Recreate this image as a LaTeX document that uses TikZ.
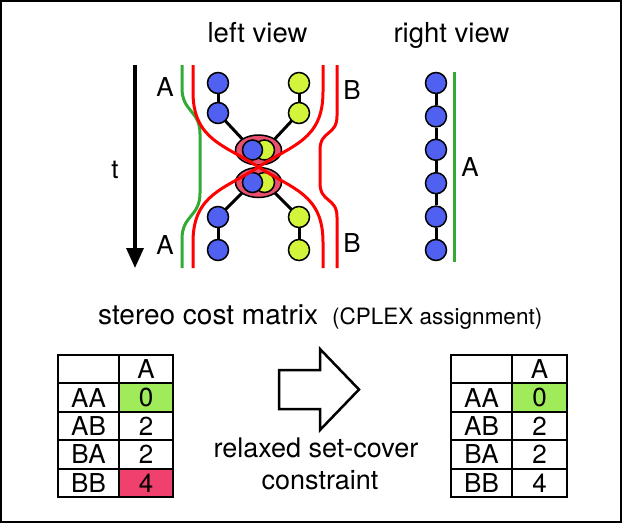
\documentclass[tikz,border=0pt]{standalone}
\usepackage{fontspec}
\setmainfont{TeX Gyre Heros}
\usetikzlibrary{arrows.meta,shapes.geometric}
\definecolor{ballblue}{HTML}{5060F0}
\definecolor{ballyellow}{HTML}{D2F53C}
\definecolor{pairred}{HTML}{E8506E}
\definecolor{linegreen}{HTML}{33AA33}
\definecolor{cellgreen}{HTML}{A0EB5A}
\definecolor{cellred}{HTML}{F0416E}
\pgfdeclarelayer{background}
\pgfsetlayers{background,main}
\begin{document}
\begin{tikzpicture}[x=1pt,y=-1pt,
  ball/.style={circle, draw=black, line width=1.5pt, minimum size=21pt, inner sep=0pt},
  bb/.style={ball, fill=ballblue},
  yb/.style={ball, fill=ballyellow},
  pairnode/.style={ellipse, draw=black, line width=1.5pt, fill=pairred, minimum width=46pt, minimum height=30pt, inner sep=0pt},
  link/.style={line width=3pt, black},
  track/.style={line width=3pt},
  lbl/.style={font=\fontsize{26}{28}\selectfont, inner sep=0pt},
  big/.style={font=\fontsize{27.5}{30}\selectfont, inner sep=0pt},
  cell/.style={draw=black, line width=2pt, minimum height=28.4pt, inner sep=0pt, font=\fontsize{26}{28}\selectfont},
]
\useasboundingbox (0,0) rectangle (622,523);
\draw[line width=2pt] (1,1) rectangle (620.5,521.5);

% titles
\node[big, anchor=base] (lv) at (257.5,42) {left view};
\node[big, anchor=base] (rv) at (451.5,42) {right view};

% time arrow
\coordinate (ts) at (135,65);
\coordinate (te) at (135,268);
\draw[line width=3.3pt, -{Triangle[length=20pt,width=17pt]}] (ts) -- (te);
\node[lbl] (tl) at (115,170) {t};

% labels
\node[lbl] (la1) at (165,87) {A};
\node[lbl] (la2) at (165,245) {A};
\node[lbl] (lb1) at (352,90) {B};
\node[lbl] (lb2) at (352,243) {B};

% green and outer red tracks
\draw[track, linegreen] (182,65) -- (182,88) .. controls (182,112) and (200,110) .. (200,134) -- (200,193) .. controls (200,217) and (182,215) .. (182,239) -- (182,268);
\draw[track, red] (337,65) -- (337,116) .. controls (337,136) and (320,130) .. (320,150) -- (320,183) .. controls (320,203) and (337,197) .. (337,217) -- (337,268);

% balls left view
\node[bb] (b1) at (218,83) {};
\node[bb] (b2) at (218,113) {};
\node[yb] (y1) at (299,83) {};
\node[yb] (y2) at (299,113) {};
\node[bb] (b3) at (218,217) {};
\node[bb] (b4) at (218,250) {};
\node[yb] (y3) at (299,217) {};
\node[yb] (y4) at (299,250) {};
\node[pairnode] (p1) at (258.5,150) {};
\node[pairnode] (p2) at (258.5,182.5) {};
\node[yb, minimum size=20pt] (py1) at (264.5,150) {};
\node[bb, minimum size=20pt] (pb1) at (252.5,150) {};
\node[yb, minimum size=20pt] (py2) at (264.5,182.5) {};
\node[bb, minimum size=20pt] (pb2) at (252.5,182.5) {};
\begin{pgfonlayer}{background}
\draw[link] (b1) -- (b2);
\draw[link] (y1) -- (y2);
\draw[link] (b3) -- (b4);
\draw[link] (y3) -- (y4);
\draw[link] (b2.center) -- (pb1.center);
\draw[link] (y2.center) -- (py1.center);
\draw[link] (pb2.center) -- (b3.center);
\draw[link] (py2.center) -- (y3.center);
\end{pgfonlayer}

% crossing red curves
\draw[track, red] (193,65) -- (193,92) .. controls (193,140) and (225,145) .. (258.5,167) .. controls (292,189) and (323,194) .. (323,242) -- (323,268);
\draw[track, red] (323,65) -- (323,92) .. controls (323,140) and (292,145) .. (258.5,167) .. controls (225,189) and (193,194) .. (193,242) -- (193,268);

% right view
\foreach \i in {1,...,6} {
  \node[bb] (r\i) at (436,{83+33.4*(\i-1)}) {};
}
\begin{pgfonlayer}{background}
\foreach \i/\j in {1/2,2/3,3/4,4/5,5/6} {
  \draw[link] (r\i) -- (r\j);
}
\end{pgfonlayer}
\draw[track, linegreen] (454,72) -- (454,262);
\node[lbl] (ra) at (470,167) {A};

% middle texts
\node[font=\fontsize{28}{30}\selectfont, inner sep=0pt, anchor=base west] (scm) at (98,324) {stereo cost matrix};
\node[font=\fontsize{22.5}{25}\selectfont, inner sep=0pt, anchor=base west] (cplex) at (332,324) {(CPLEX assignment)};
\node[font=\fontsize{27}{30}\selectfont, inner sep=0pt, anchor=base] (rs1) at (316,457) {relaxed set-cover};
\node[font=\fontsize{27}{30}\selectfont, inner sep=0pt, anchor=base] (rs2) at (320,489) {constraint};

% hollow arrow
\draw[line width=2.5pt, line join=miter] (279,370) -- (320,370) -- (320,349) -- (359,389.5) -- (320,430) -- (320,409) -- (279,409) -- cycle;

% left table
\node[cell, minimum width=61pt] (L0a) at (88.5,369.2) {};
\node[cell, minimum width=54pt] (L0b) at (146,369.2) {A};
\foreach \r/\n/\v/\c in {1/AA/0/cellgreen, 2/AB/2/white, 3/BA/2/white, 4/BB/4/cellred} {
  \node[cell, minimum width=61pt] (L\r a) at (88.5,{369.2+28.4*\r}) {\n};
  \node[cell, minimum width=54pt, fill=\c] (L\r b) at (146,{369.2+28.4*\r}) {\v};
}

% right table
\node[cell, minimum width=61pt] (R0a) at (481.5,369.2) {};
\node[cell, minimum width=55pt] (R0b) at (539.5,369.2) {A};
\foreach \r/\n/\v/\c in {1/AA/0/cellgreen, 2/AB/2/white, 3/BA/2/white, 4/BB/4/white} {
  \node[cell, minimum width=61pt] (R\r a) at (481.5,{369.2+28.4*\r}) {\n};
  \node[cell, minimum width=55pt, fill=\c] (R\r b) at (539.5,{369.2+28.4*\r}) {\v};
}
\end{tikzpicture}
\end{document}
